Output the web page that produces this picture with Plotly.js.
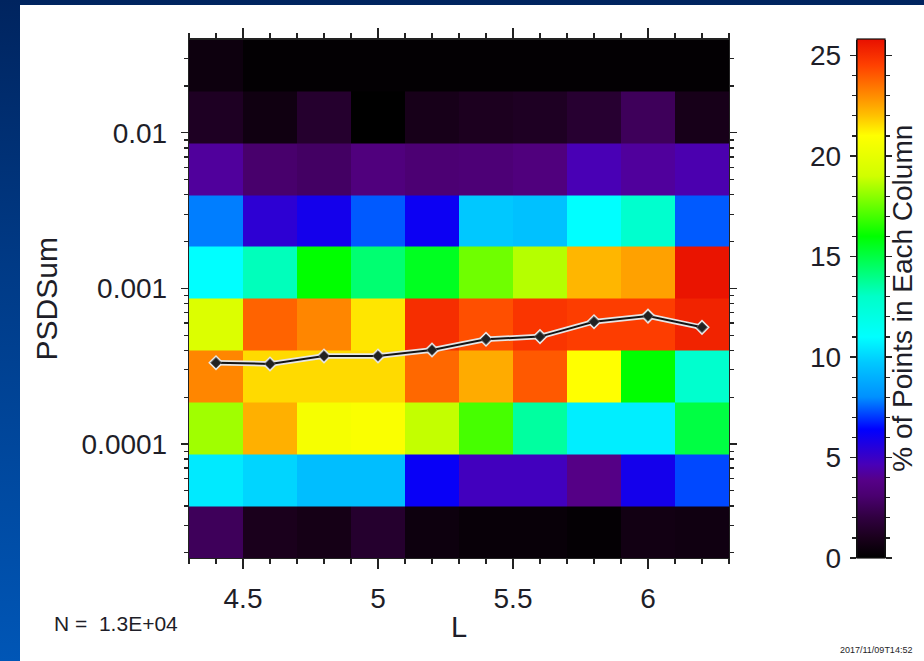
<!DOCTYPE html>
<html>
<head>
<meta charset="utf-8">
<script src="https://cdn.plot.ly/plotly-3.0.1.min.js"></script>
<style>
  html, body { margin:0; padding:0; width:924px; height:661px; overflow:hidden;
    background: linear-gradient(180deg, #00245f 0%, #003a86 40%, #0056b6 100%); }
  #chart { width:924px; height:661px; }
</style>
</head>
<body>
<div id="chart"></div>
<script>
// ---- data ----
const lEdges   = [4.3, 4.5, 4.7, 4.9, 5.1, 5.3, 5.5, 5.7, 5.9, 6.1, 6.3];
const lCenters = [4.4, 4.6, 4.8, 5.0, 5.2, 5.4, 5.6, 5.8, 6.0, 6.2];
const psdEdges = [1.85e-5, 3.98e-5, 8.58e-5, 1.85e-4, 3.98e-4, 8.58e-4, 1.85e-3, 3.98e-3, 8.58e-3, 1.85e-2, 3.98e-2];
// percent of points in each column, rows from lowest PSDSum bin to highest
const pctRow0 = [2.6, 1.0, 0.8, 1.5, 0.5, 0.3, 0.3, 0.15, 0.7, 0.6];
const pctRow1 = [10.5, 10.0, 9.4, 9.4, 6.2, 4.8, 4.8, 3.8, 5.9, 7.2];
const pctRow2 = [18.3, 22.3, 20.6, 20.8, 18.8, 17.0, 13.6, 10.6, 10.6, 15.0];
const pctRow3 = [23.1, 21.6, 21.6, 21.6, 23.7, 22.4, 24.0, 21.0, 16.0, 12.8];
const pctRow4 = [19.5, 23.8, 23.1, 21.4, 25.0, 24.2, 24.8, 24.6, 24.6, 25.3];
const pctRow5 = [11.0, 13.2, 16.0, 14.3, 15.5, 17.6, 18.6, 22.2, 22.6, 25.7];
const pctRow6 = [7.8, 5.3, 5.9, 7.4, 6.1, 9.7, 9.5, 11.0, 12.8, 7.4];
const pctRow7 = [4.2, 3.0, 2.8, 3.5, 3.2, 3.3, 3.5, 4.6, 4.2, 4.5];
const pctRow8 = [1.2, 0.6, 1.5, 0.0, 0.9, 1.1, 1.2, 1.6, 2.6, 0.9];
const pctRow9 = [0.5, 0.1, 0.1, 0.1, 0.1, 0.1, 0.1, 0.1, 0.1, 0.1];
const medianPSD = [3.33e-4, 3.27e-4, 3.68e-4, 3.68e-4, 4.02e-4, 4.71e-4, 4.90e-4, 6.11e-4, 6.64e-4, 5.62e-4];
const yTickVals = [1e-4, 1e-3, 1e-2];
const yTickText = ['0.0001', '0.001', '0.01'];
const xTickVals = [4.5, 5, 5.5, 6];
const cbTickVals = [0, 5, 10, 15, 20, 25];
const zMax = 25.8;
const nText = 'N =  1.3E+04';
const stampText = '2017/11/09T14:52';

// ---- layout helpers ----
const W = 924, H = 661;
const FONT = '"Liberation Sans", Arial, "DejaVu Sans", sans-serif';
const TXT = '#1e1e28';
const plotL = 189, plotR = 729, plotT = 39.5, plotB = 558;
const xDom = [plotL / W, plotR / W];
const yDom = [1 - plotB / H, 1 - plotT / H];
const cbL = 857, cbR = 885;

const minorY = [];
for (let k = -5; k <= -2; k++) for (let m = 2; m <= 9; m++) minorY.push(m * Math.pow(10, k));

const colorscale = [
  [0.000, '#000000'],
  [0.039, '#1a001c'],
  [0.078, '#300040'],
  [0.120, '#4a0070'],
  [0.150, '#560088'],
  [0.180, '#4800b8'],
  [0.248, '#0000ff'],
  [0.310, '#0090ff'],
  [0.376, '#00c8ff'],
  [0.426, '#00ffff'],
  [0.504, '#00ffc8'],
  [0.620, '#00ff00'],
  [0.736, '#d0ff00'],
  [0.814, '#ffff00'],
  [0.853, '#ffc000'],
  [0.891, '#ff8c00'],
  [0.950, '#ff4000'],
  [1.000, '#e81000']
];

const heat = {
  type: 'heatmap',
  x: lEdges,
  y: psdEdges,
  z: [pctRow0, pctRow1, pctRow2, pctRow3, pctRow4, pctRow5, pctRow6, pctRow7, pctRow8, pctRow9],
  zmin: 0, zmax: zMax,
  colorscale: colorscale,
  hoverinfo: 'skip',
  colorbar: {
    x: cbL / W, xanchor: 'left', xref: 'paper',
    y: (yDom[0] + yDom[1]) / 2, yanchor: 'middle', yref: 'paper',
    len: yDom[1] - yDom[0], lenmode: 'fraction',
    thickness: cbR - cbL, thicknessmode: 'pixels',
    xpad: 0, ypad: 0,
    outlinecolor: '#111', outlinewidth: 1.2,
    ticks: '', showticklabels: false
  }
};

const halo = {
  type: 'scatter', mode: 'lines+markers',
  x: lCenters, y: medianPSD,
  line: { color: '#e6e6e6', width: 5.5 },
  marker: { symbol: 'diamond', size: 12, color: '#e6e6e6' },
  hoverinfo: 'skip', showlegend: false
};
const medLine = {
  type: 'scatter', mode: 'lines+markers',
  x: lCenters, y: medianPSD,
  line: { color: '#141414', width: 2 },
  marker: { symbol: 'diamond', size: 8, color: '#222', line: { color: '#555', width: 1 } },
  showlegend: false
};
const cbAxisHolder = { type: 'scatter', x: [], y: [], xaxis: 'x3', yaxis: 'y3', showlegend: false, hoverinfo: 'skip' };

const tickFont = { family: FONT, size: 28, color: TXT };

const layout = {
  width: W, height: H,
  margin: { l: 0, r: 0, t: 0, b: 0, pad: 0 },
  paper_bgcolor: 'rgba(0,0,0,0)',
  plot_bgcolor: 'rgba(0,0,0,0)',
  showlegend: false,
  xaxis: {
    domain: xDom, range: [4.3, 6.3], anchor: 'y',
    tickmode: 'array', tickvals: xTickVals, ticktext: ['4.5', '5', '5.5', '6'],
    ticks: 'outside', ticklen: 10, tickwidth: 1.2, tickcolor: '#222',
    minor: { tickmode: 'linear', tick0: 4.3, dtick: 0.1, ticks: 'outside', ticklen: 5, tickwidth: 1.2, tickcolor: '#222', showgrid: false },
    showline: true, linecolor: '#222', linewidth: 1.2, mirror: 'ticks',
    showgrid: false, zeroline: false,
    tickfont: tickFont, ticklabelstandoff: 5,
    title: { text: 'L', font: { family: FONT, size: 29, color: TXT }, standoff: 4 }
  },
  yaxis: {
    domain: yDom, type: 'log', anchor: 'x',
    range: [Math.log10(psdEdges[0]), Math.log10(psdEdges[psdEdges.length - 1])],
    tickmode: 'array', tickvals: yTickVals, ticktext: yTickText,
    ticks: 'outside', ticklen: 7, tickwidth: 1.2, tickcolor: '#222',
    minor: { tickmode: 'array', tickvals: minorY, ticks: 'outside', ticklen: 4, tickwidth: 1.2, tickcolor: '#222', showgrid: false },
    showline: true, linecolor: '#222', linewidth: 1.2, mirror: 'ticks',
    showgrid: false, zeroline: false,
    tickfont: tickFont, ticklabelstandoff: 8,
    title: { text: 'PSDSum', font: { family: FONT, size: 30, color: TXT }, standoff: 15 }
  },
  xaxis3: {
    domain: [cbL / W, cbR / W], range: [0, 1], anchor: 'y3',
    visible: false, fixedrange: true
  },
  yaxis3: {
    domain: yDom, range: [0, zMax], anchor: 'x3', side: 'left',
    tickmode: 'array', tickvals: cbTickVals,
    ticks: 'outside', ticklen: 6, tickwidth: 1.2, tickcolor: '#222',
    minor: { tickmode: 'linear', tick0: 0, dtick: 1, ticks: 'outside', ticklen: 4, tickwidth: 1.2, tickcolor: '#222', showgrid: false },
    showline: true, linecolor: '#111', linewidth: 1.2, mirror: 'ticks',
    showgrid: false, zeroline: false, fixedrange: true,
    tickfont: tickFont, ticklabelstandoff: 3
  },
  shapes: [{
    type: 'rect', xref: 'paper', yref: 'paper', layer: 'below',
    x0: 20 / W, x1: 1, y0: 0, y1: 1 - 5 / H,
    fillcolor: '#ffffff', line: { width: 0 }
  }],
  annotations: [
    { text: '% of Points in Each Column', xref: 'paper', yref: 'paper',
      x: 903 / W, y: (yDom[0] + yDom[1]) / 2, xanchor: 'center', yanchor: 'middle',
      textangle: -90, showarrow: false, font: { family: FONT, size: 28, color: TXT } },
    { text: nText, xref: 'paper', yref: 'paper', x: 52 / W, y: 1 - 623 / H,
      xanchor: 'left', yanchor: 'middle', showarrow: false,
      font: { family: FONT, size: 21, color: TXT } },
    { text: stampText, xref: 'paper', yref: 'paper', x: 876 / W, y: 1 - 650 / H,
      xanchor: 'center', yanchor: 'middle', showarrow: false,
      font: { family: FONT, size: 9, color: TXT } }
  ]
};

Plotly.newPlot('chart', [heat, halo, medLine, cbAxisHolder], layout, { displayModeBar: false, staticPlot: true });
</script>
</body>
</html>
